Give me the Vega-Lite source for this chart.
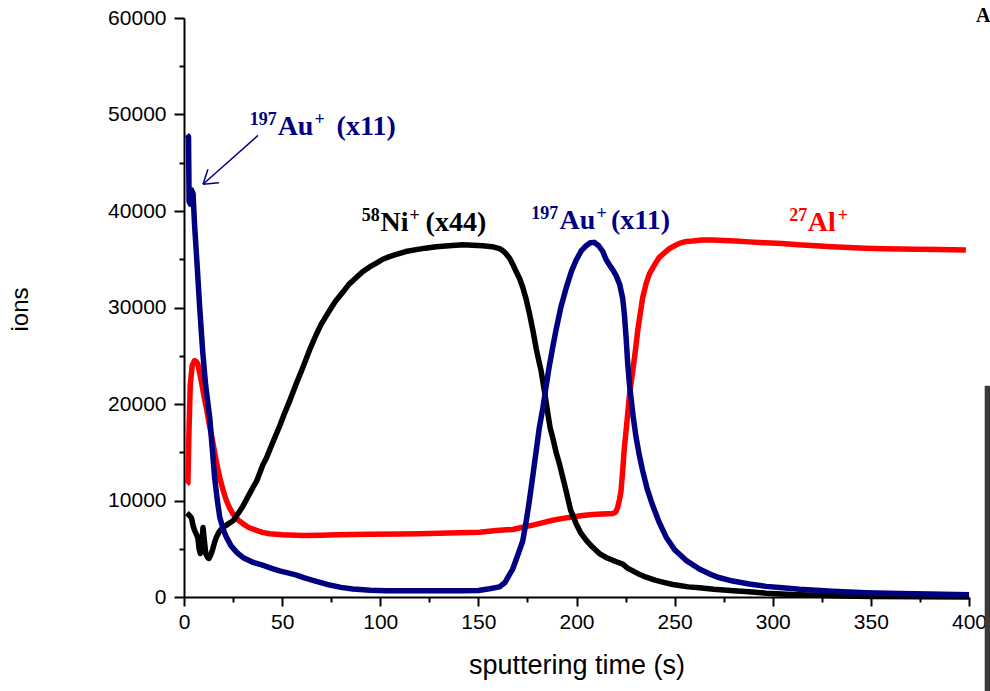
{
  "$schema": "https://vega.github.io/schema/vega-lite/v6.json",
  "width": 785,
  "height": 579,
  "autosize": {"type": "none"},
  "padding": {"left": 184, "top": 18, "right": 21, "bottom": 94},
  "background": "white",
  "config": {"view": {"stroke": null}},
  "datasets": {
    "curves": [
      {"series":"Al","t":1.5,"ions":11700},{"series":"Al","t":2.0,"ions":11800},{"series":"Al","t":2.5,"ions":16900},{"series":"Al","t":3.2,"ions":22000},{"series":"Al","t":4.2,"ions":24000},{"series":"Al","t":5.4,"ions":24500},{"series":"Al","t":6.3,"ions":24400},{"series":"Al","t":7.1,"ions":24100},{"series":"Al","t":8.8,"ions":22400},{"series":"Al","t":10,"ions":21000},{"series":"Al","t":11.4,"ions":19600},{"series":"Al","t":13,"ions":17800},{"series":"Al","t":14.8,"ions":15900},{"series":"Al","t":16.5,"ions":14000},{"series":"Al","t":18.2,"ions":12400},{"series":"Al","t":20,"ions":11000},{"series":"Al","t":21.6,"ions":10000},{"series":"Al","t":23.3,"ions":9200},{"series":"Al","t":25,"ions":8600},{"series":"Al","t":27.5,"ions":8000},{"series":"Al","t":30,"ions":7600},{"series":"Al","t":33,"ions":7200},{"series":"Al","t":36.9,"ions":6900},{"series":"Al","t":40,"ions":6700},{"series":"Al","t":43.6,"ions":6550},{"series":"Al","t":50,"ions":6450},{"series":"Al","t":60.6,"ions":6380},{"series":"Al","t":70,"ions":6400},{"series":"Al","t":77.6,"ions":6450},{"series":"Al","t":94.6,"ions":6500},{"series":"Al","t":110,"ions":6530},{"series":"Al","t":120,"ions":6560},{"series":"Al","t":135,"ions":6620},{"series":"Al","t":150.6,"ions":6720},{"series":"Al","t":159,"ions":6900},{"series":"Al","t":167.5,"ions":7000},{"series":"Al","t":172,"ions":7200},{"series":"Al","t":177.7,"ions":7450},{"series":"Al","t":183,"ions":7700},{"series":"Al","t":187.9,"ions":7950},{"series":"Al","t":193,"ions":8150},{"series":"Al","t":198.1,"ions":8300},{"series":"Al","t":203,"ions":8450},{"series":"Al","t":208.3,"ions":8550},{"series":"Al","t":213,"ions":8600},{"series":"Al","t":218.5,"ions":8650},{"series":"Al","t":220,"ions":8800},{"series":"Al","t":221,"ions":9300},{"series":"Al","t":222,"ions":10200},{"series":"Al","t":222.7,"ions":11000},{"series":"Al","t":223.5,"ions":13000},{"series":"Al","t":224.4,"ions":15500},{"series":"Al","t":225.3,"ions":17300},{"series":"Al","t":226.1,"ions":19000},{"series":"Al","t":227,"ions":21000},{"series":"Al","t":228.7,"ions":23450},{"series":"Al","t":230,"ions":25500},{"series":"Al","t":231.2,"ions":27600},{"series":"Al","t":232.5,"ions":29400},{"series":"Al","t":233.7,"ions":31000},{"series":"Al","t":235.5,"ions":32500},{"series":"Al","t":237.2,"ions":33500},{"series":"Al","t":240,"ions":34500},{"series":"Al","t":242.2,"ions":35200},{"series":"Al","t":245,"ions":35700},{"series":"Al","t":247.3,"ions":36100},{"series":"Al","t":250,"ions":36400},{"series":"Al","t":252.4,"ions":36650},{"series":"Al","t":256,"ions":36850},{"series":"Al","t":259.2,"ions":36900},{"series":"Al","t":264,"ions":37000},{"series":"Al","t":269.4,"ions":37000},{"series":"Al","t":275,"ions":36950},{"series":"Al","t":281,"ions":36900},{"series":"Al","t":288,"ions":36800},{"series":"Al","t":296,"ions":36700},{"series":"Al","t":305,"ions":36620},{"series":"Al","t":313,"ions":36500},{"series":"Al","t":322,"ions":36400},{"series":"Al","t":330,"ions":36300},{"series":"Al","t":339,"ions":36220},{"series":"Al","t":347,"ions":36150},{"series":"Al","t":356,"ions":36100},{"series":"Al","t":365,"ions":36070},{"series":"Al","t":373,"ions":36040},{"series":"Al","t":385,"ions":36000},{"series":"Al","t":398.4,"ions":35950},
      {"series":"Ni","t":1.5,"ions":8700},{"series":"Ni","t":2,"ions":8600},{"series":"Ni","t":3,"ions":8400},{"series":"Ni","t":3.8,"ions":8200},{"series":"Ni","t":4.6,"ions":7400},{"series":"Ni","t":5.4,"ions":6900},{"series":"Ni","t":6.3,"ions":6500},{"series":"Ni","t":7.1,"ions":6100},{"series":"Ni","t":7.7,"ions":5000},{"series":"Ni","t":8.3,"ions":4500},{"series":"Ni","t":9,"ions":5500},{"series":"Ni","t":9.7,"ions":7200},{"series":"Ni","t":10.4,"ions":5800},{"series":"Ni","t":11.1,"ions":4500},{"series":"Ni","t":12,"ions":4100},{"series":"Ni","t":12.7,"ions":4000},{"series":"Ni","t":13.5,"ions":4300},{"series":"Ni","t":14.4,"ions":4800},{"series":"Ni","t":15.5,"ions":5600},{"series":"Ni","t":16.5,"ions":6200},{"series":"Ni","t":18,"ions":6800},{"series":"Ni","t":19.9,"ions":7200},{"series":"Ni","t":22,"ions":7500},{"series":"Ni","t":25,"ions":7900},{"series":"Ni","t":28.4,"ions":8900},{"series":"Ni","t":30,"ions":9400},{"series":"Ni","t":32.6,"ions":10400},{"series":"Ni","t":35,"ions":11300},{"series":"Ni","t":37,"ions":12000},{"series":"Ni","t":40.2,"ions":13700},{"series":"Ni","t":42,"ions":14400},{"series":"Ni","t":45,"ions":15900},{"series":"Ni","t":48.7,"ions":17700},{"series":"Ni","t":51,"ions":18900},{"series":"Ni","t":53.8,"ions":20300},{"series":"Ni","t":57,"ions":22000},{"series":"Ni","t":60.6,"ions":23800},{"series":"Ni","t":64,"ions":25600},{"series":"Ni","t":67.4,"ions":27200},{"series":"Ni","t":70,"ions":28300},{"series":"Ni","t":74.2,"ions":29700},{"series":"Ni","t":77,"ions":30600},{"series":"Ni","t":81,"ions":31600},{"series":"Ni","t":84,"ions":32400},{"series":"Ni","t":87.8,"ions":33100},{"series":"Ni","t":91,"ions":33700},{"series":"Ni","t":94.6,"ions":34200},{"series":"Ni","t":98,"ions":34600},{"series":"Ni","t":101.3,"ions":35000},{"series":"Ni","t":105,"ions":35300},{"series":"Ni","t":108.2,"ions":35500},{"series":"Ni","t":113,"ions":35800},{"series":"Ni","t":118.3,"ions":36000},{"series":"Ni","t":123,"ions":36150},{"series":"Ni","t":128.5,"ions":36300},{"series":"Ni","t":135,"ions":36400},{"series":"Ni","t":142.1,"ions":36500},{"series":"Ni","t":147,"ions":36450},{"series":"Ni","t":152.3,"ions":36400},{"series":"Ni","t":157,"ions":36300},{"series":"Ni","t":160.8,"ions":36100},{"series":"Ni","t":162.4,"ions":35900},{"series":"Ni","t":164,"ions":35600},{"series":"Ni","t":165.9,"ions":35100},{"series":"Ni","t":167.5,"ions":34500},{"series":"Ni","t":169.3,"ions":33700},{"series":"Ni","t":171,"ions":33000},{"series":"Ni","t":172.6,"ions":32100},{"series":"Ni","t":174.3,"ions":30900},{"series":"Ni","t":176,"ions":29400},{"series":"Ni","t":177.8,"ions":27600},{"series":"Ni","t":179.5,"ions":25700},{"series":"Ni","t":181,"ions":24300},{"series":"Ni","t":182,"ions":23400},{"series":"Ni","t":183.7,"ions":21300},{"series":"Ni","t":185.4,"ions":19000},{"series":"Ni","t":186.6,"ions":17500},{"series":"Ni","t":187.9,"ions":16500},{"series":"Ni","t":189.6,"ions":15000},{"series":"Ni","t":191.3,"ions":13800},{"series":"Ni","t":193,"ions":12400},{"series":"Ni","t":194.7,"ions":11000},{"series":"Ni","t":197,"ions":9000},{"series":"Ni","t":199.8,"ions":7600},{"series":"Ni","t":202,"ions":6700},{"series":"Ni","t":204.9,"ions":5900},{"series":"Ni","t":208,"ions":5200},{"series":"Ni","t":211.7,"ions":4500},{"series":"Ni","t":215,"ions":4100},{"series":"Ni","t":218.5,"ions":3800},{"series":"Ni","t":221,"ions":3600},{"series":"Ni","t":223.6,"ions":3400},{"series":"Ni","t":226,"ions":3000},{"series":"Ni","t":228.7,"ions":2700},{"series":"Ni","t":232,"ions":2350},{"series":"Ni","t":235.5,"ions":2050},{"series":"Ni","t":240,"ions":1750},{"series":"Ni","t":243.9,"ions":1550},{"series":"Ni","t":249,"ions":1300},{"series":"Ni","t":252.4,"ions":1200},{"series":"Ni","t":257,"ions":1050},{"series":"Ni","t":262.6,"ions":950},{"series":"Ni","t":270,"ions":800},{"series":"Ni","t":280,"ions":650},{"series":"Ni","t":288,"ions":550},{"series":"Ni","t":296.6,"ions":400},{"series":"Ni","t":310,"ions":250},{"series":"Ni","t":330.5,"ions":120},{"series":"Ni","t":350,"ions":60},{"series":"Ni","t":375,"ions":30},{"series":"Ni","t":400,"ions":10},
      {"series":"Au","t":1.5,"ions":47900},{"series":"Au","t":2.3,"ions":47700},{"series":"Au","t":2.6,"ions":41000},{"series":"Au","t":3.3,"ions":40700},{"series":"Au","t":3.8,"ions":42200},{"series":"Au","t":4.6,"ions":41800},{"series":"Au","t":5.4,"ions":38500},{"series":"Au","t":6.5,"ions":35000},{"series":"Au","t":8,"ions":30000},{"series":"Au","t":9.5,"ions":25500},{"series":"Au","t":11,"ions":22000},{"series":"Au","t":13.1,"ions":18600},{"series":"Au","t":15.6,"ions":12400},{"series":"Au","t":17,"ions":10000},{"series":"Au","t":18.2,"ions":8300},{"series":"Au","t":20,"ions":7000},{"series":"Au","t":21.6,"ions":6200},{"series":"Au","t":24,"ions":5300},{"series":"Au","t":27,"ions":4600},{"series":"Au","t":30,"ions":4100},{"series":"Au","t":35,"ions":3600},{"series":"Au","t":40,"ions":3300},{"series":"Au","t":45,"ions":2950},{"series":"Au","t":48.7,"ions":2700},{"series":"Au","t":57,"ions":2300},{"series":"Au","t":61,"ions":2000},{"series":"Au","t":67,"ions":1650},{"series":"Au","t":73,"ions":1300},{"series":"Au","t":80,"ions":1000},{"series":"Au","t":86,"ions":820},{"series":"Au","t":95,"ions":700},{"series":"Au","t":103,"ions":650},{"series":"Au","t":120,"ions":640},{"series":"Au","t":142,"ions":650},{"series":"Au","t":150,"ions":680},{"series":"Au","t":155.7,"ions":850},{"series":"Au","t":160.8,"ions":1050},{"series":"Au","t":163.5,"ions":1500},{"series":"Au","t":167.5,"ions":2900},{"series":"Au","t":170,"ions":4300},{"series":"Au","t":172.6,"ions":5800},{"series":"Au","t":174.5,"ions":8000},{"series":"Au","t":176,"ions":10000},{"series":"Au","t":177.7,"ions":12500},{"series":"Au","t":179.5,"ions":15200},{"series":"Au","t":181.1,"ions":17600},{"series":"Au","t":182.8,"ions":19500},{"series":"Au","t":184.5,"ions":21800},{"series":"Au","t":186.2,"ions":24000},{"series":"Au","t":188,"ions":26000},{"series":"Au","t":189.6,"ions":27700},{"series":"Au","t":192,"ions":30000},{"series":"Au","t":194.7,"ions":32000},{"series":"Au","t":197.5,"ions":33800},{"series":"Au","t":199.8,"ions":34900},{"series":"Au","t":202.5,"ions":35900},{"series":"Au","t":204.9,"ions":36400},{"series":"Au","t":207,"ions":36700},{"series":"Au","t":209.1,"ions":36750},{"series":"Au","t":211.3,"ions":36400},{"series":"Au","t":213.4,"ions":35800},{"series":"Au","t":215,"ions":35000},{"series":"Au","t":216.8,"ions":34400},{"series":"Au","t":218.5,"ions":33900},{"series":"Au","t":220.2,"ions":33300},{"series":"Au","t":222,"ions":32400},{"series":"Au","t":223.5,"ions":31000},{"series":"Au","t":224.4,"ions":29300},{"series":"Au","t":225.3,"ions":26800},{"series":"Au","t":226.1,"ions":24200},{"series":"Au","t":227,"ions":22000},{"series":"Au","t":227.8,"ions":20600},{"series":"Au","t":229,"ions":18500},{"series":"Au","t":230.4,"ions":16500},{"series":"Au","t":232,"ions":14700},{"series":"Au","t":233.7,"ions":13100},{"series":"Au","t":236,"ions":11200},{"series":"Au","t":238.8,"ions":9500},{"series":"Au","t":242,"ions":7800},{"series":"Au","t":245.7,"ions":6200},{"series":"Au","t":250,"ions":4900},{"series":"Au","t":255.8,"ions":3800},{"series":"Au","t":262.6,"ions":2900},{"series":"Au","t":267.7,"ions":2400},{"series":"Au","t":272,"ions":2050},{"series":"Au","t":279.6,"ions":1650},{"series":"Au","t":288,"ions":1350},{"series":"Au","t":296.6,"ions":1100},{"series":"Au","t":305,"ions":950},{"series":"Au","t":313.5,"ions":800},{"series":"Au","t":330.5,"ions":600},{"series":"Au","t":347.5,"ions":450},{"series":"Au","t":364.5,"ions":370},{"series":"Au","t":380,"ions":300},{"series":"Au","t":400,"ions":230}
    ],
    "labels": [
      {"series":"Au","kind":"sup","t":33.46,"ions":48900,"text":"197"},
      {"series":"Au","kind":"main","t":47.72,"ions":47870,"text":"Au"},
      {"series":"Au","kind":"sup","t":66.56,"ions":48900,"text":"+"},
      {"series":"Au","kind":"main","t":77.76,"ions":47870,"text":"(x11)"},
      {"series":"Ni","kind":"sup","t":90.52,"ions":38970,"text":"58"},
      {"series":"Ni","kind":"main","t":100.17,"ions":37935,"text":"Ni"},
      {"series":"Ni","kind":"sup","t":114.94,"ions":38970,"text":"+"},
      {"series":"Ni","kind":"main","t":123.1,"ions":37935,"text":"(x44)"},
      {"series":"Au","kind":"sup","t":176.9,"ions":39176,"text":"197"},
      {"series":"Au","kind":"main","t":191.3,"ions":38142,"text":"Au"},
      {"series":"Au","kind":"sup","t":210.2,"ions":39176,"text":"+"},
      {"series":"Au","kind":"main","t":217.6,"ions":38142,"text":"(x11)"},
      {"series":"Al","kind":"sup","t":308.4,"ions":38918,"text":"27"},
      {"series":"Al","kind":"main","t":317.8,"ions":37884,"text":"Al"},
      {"series":"Al","kind":"sup","t":333.1,"ions":38918,"text":"+"}
    ],
    "arrow": [
      {"t":37.68,"ions":47834,"t2":9.68,"ions2":42767},
      {"t":12.22,"ions":44318,"t2":9.68,"ions2":42767},
      {"t":17.82,"ions":42932,"t2":9.68,"ions2":42767}
    ],
    "edge": [
      {"t":408,"t2":416,"ions":21900,"ions2":-11000}
    ],
    "corner": [
      {"t":403.6,"ions":59600,"text":"A"}
    ]
  },
  "encoding": {
    "x": {
      "field": "t", "type": "quantitative", "title": "sputtering time (s)",
      "scale": {"domain": [0, 400], "nice": false, "zero": false},
      "axis": {
        "values": [0,25,50,75,100,125,150,175,200,225,250,275,300,325,350,375,400],
        "labelExpr": "datum.value % 50 === 0 ? datum.label : ''",
        "tickSize": {"condition": {"test": "datum.value % 50 === 0", "value": 9}, "value": 5},
        "tickWidth": 2, "tickColor": "black",
        "domainColor": "black", "domainWidth": 2,
        "labelFont": "Liberation Sans", "labelFontSize": 21, "labelColor": "black",
        "labelPadding": 5, "labelFlush": false, "labelOverlap": false,
        "titleFont": "Liberation Sans", "titleFontSize": 27, "titleFontWeight": "normal",
        "titleColor": "black", "titlePadding": 20, "grid": false
      }
    },
    "y": {
      "field": "ions", "type": "quantitative", "title": "ions",
      "scale": {"domain": [0, 60000], "nice": false, "zero": false},
      "axis": {
        "values": [0,5000,10000,15000,20000,25000,30000,35000,40000,45000,50000,55000,60000],
        "format": "d",
        "labelExpr": "datum.value % 10000 === 0 ? datum.label : ''",
        "tickSize": {"condition": {"test": "datum.value % 10000 === 0", "value": 10}, "value": 5},
        "tickWidth": 2, "tickColor": "black",
        "domainColor": "black", "domainWidth": 2,
        "labelFont": "Liberation Sans", "labelFontSize": 21, "labelColor": "black",
        "labelPadding": 8, "labelFlush": false, "labelOverlap": false,
        "titleFont": "Liberation Sans", "titleFontSize": 24, "titleFontWeight": "normal",
        "titleColor": "black", "titleX": -164, "titleY": 291, "titleAngle": -90,
        "titleAlign": "center", "titleBaseline": "middle", "grid": false
      }
    }
  },
  "layer": [
    {
      "data": {"name": "edge"},
      "mark": {"type": "rect", "color": "#3a3a3a"},
      "encoding": {"x2": {"field": "t2"}, "y2": {"field": "ions2"}}
    },
    {
      "data": {"name": "curves"},
      "transform": [{"filter": "datum.series === 'Al'"}],
      "mark": {"type": "line", "strokeWidth": 5.5, "strokeJoin": "round"},
      "encoding": {
        "color": {"field": "series", "type": "nominal", "scale": {"domain": ["Au","Ni","Al"], "range": ["#000080","#000000","#ff0000"]}, "legend": null}
      }
    },
    {
      "data": {"name": "curves"},
      "transform": [{"filter": "datum.series === 'Ni'"}],
      "mark": {"type": "line", "strokeWidth": 5.5, "strokeJoin": "round"},
      "encoding": {
        "color": {"field": "series", "type": "nominal", "scale": {"domain": ["Au","Ni","Al"], "range": ["#000080","#000000","#ff0000"]}, "legend": null}
      }
    },
    {
      "data": {"name": "curves"},
      "transform": [{"filter": "datum.series === 'Au'"}],
      "mark": {"type": "line", "strokeWidth": 5.5, "strokeJoin": "round"},
      "encoding": {
        "color": {"field": "series", "type": "nominal", "scale": {"domain": ["Au","Ni","Al"], "range": ["#000080","#000000","#ff0000"]}, "legend": null}
      }
    },
    {
      "data": {"name": "arrow"},
      "mark": {"type": "rule", "color": "#000080", "strokeWidth": 1.5},
      "encoding": {"x2": {"field": "t2"}, "y2": {"field": "ions2"}}
    },
    {
      "data": {"name": "labels"},
      "transform": [{"filter": "datum.kind === 'main'"}],
      "mark": {"type": "text", "font": "Liberation Serif", "fontWeight": "bold", "fontSize": 28, "align": "left", "baseline": "alphabetic"},
      "encoding": {
        "text": {"field": "text"},
        "color": {"field": "series", "type": "nominal", "scale": {"domain": ["Au","Ni","Al"], "range": ["#000080","#000000","#ff0000"]}, "legend": null}
      }
    },
    {
      "data": {"name": "labels"},
      "transform": [{"filter": "datum.kind === 'sup'"}],
      "mark": {"type": "text", "font": "Liberation Serif", "fontWeight": "bold", "fontSize": 18, "align": "left", "baseline": "alphabetic"},
      "encoding": {
        "text": {"field": "text"},
        "color": {"field": "series", "type": "nominal", "scale": {"domain": ["Au","Ni","Al"], "range": ["#000080","#000000","#ff0000"]}, "legend": null}
      }
    },
    {
      "data": {"name": "corner"},
      "mark": {"type": "text", "font": "Liberation Serif", "fontWeight": "bold", "fontSize": 20, "align": "left", "baseline": "alphabetic", "color": "black"},
      "encoding": {"text": {"field": "text"}}
    }
  ]
}
